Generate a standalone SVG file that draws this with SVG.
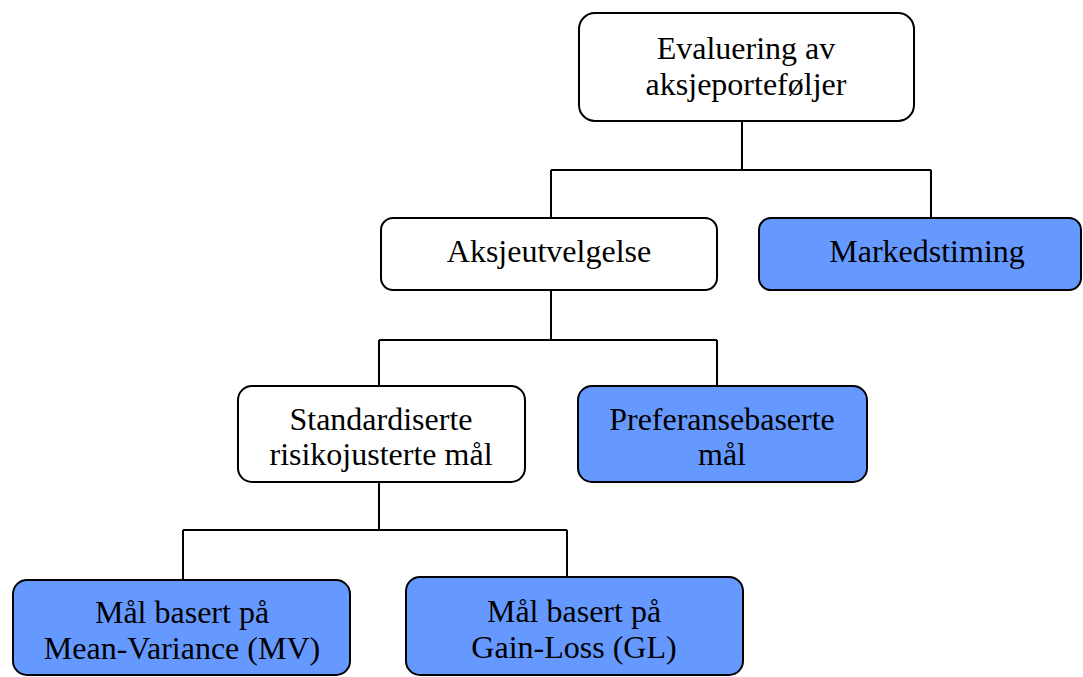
<svg xmlns="http://www.w3.org/2000/svg" width="1083" height="677" viewBox="0 0 1083 677">
<style>
.box{fill:#ffffff;stroke:#000000;stroke-width:2}
.blue{fill:#6699ff;stroke:#000000;stroke-width:2}
.t{font-family:"Liberation Serif","Times New Roman",serif;font-size:32px;fill:#000000;text-anchor:middle}
.c{fill:none;stroke:#000000;stroke-width:2}
</style>
<rect width="1083" height="677" fill="#ffffff"/>
<g id="connectors">
<path class="c" d="M742 121V170M551 170H931M551 170V218M931 170V218"/>
<path class="c" d="M551 290V340M379 340H717M379 340V386M717 340V386"/>
<path class="c" d="M379 482V530M183 530H567M183 530V580M567 530V577"/>
</g>
<g id="n1"><rect class="box" x="579" y="13" width="335" height="108" rx="16"/>
<text class="t" x="746" y="59">Evaluering av</text><text class="t" x="746" y="95">aksjeporteføljer</text></g>
<g id="n2"><rect class="box" x="381" y="218" width="336" height="72" rx="12"/>
<text class="t" x="549" y="262">Aksjeutvelgelse</text></g>
<g id="n3"><rect class="blue" x="759" y="218" width="322" height="72" rx="12"/>
<text class="t" x="927" y="262">Markedstiming</text></g>
<g id="n4"><rect class="box" x="238" y="386" width="287" height="96" rx="14"/>
<text class="t" x="381" y="430">Standardiserte</text><text class="t" x="381" y="465">risikojusterte mål</text></g>
<g id="n5"><rect class="blue" x="578" y="386" width="289" height="96" rx="14"/>
<text class="t" x="722" y="430">Preferansebaserte</text><text class="t" x="722" y="465">mål</text></g>
<g id="n6"><rect class="blue" x="13" y="580" width="337" height="95" rx="14"/>
<text class="t" x="182" y="623">Mål basert på</text><text class="t" x="182" y="659">Mean-Variance (MV)</text></g>
<g id="n7"><rect class="blue" x="406" y="577" width="337" height="98" rx="14"/>
<text class="t" x="574" y="622">Mål basert på</text><text class="t" x="574" y="658">Gain-Loss (GL)</text></g>
</svg>
